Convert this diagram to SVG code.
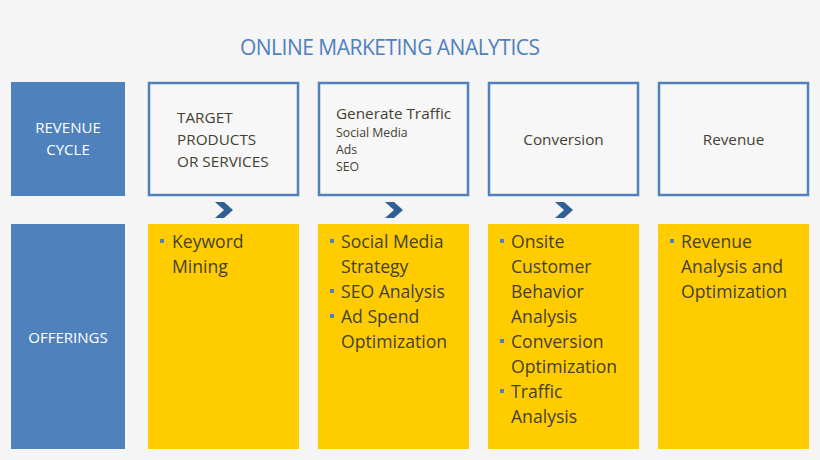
<svg xmlns="http://www.w3.org/2000/svg" width="820" height="460" viewBox="0 0 820 460">
<style>
.t{font-family:"Open Sans","Liberation Sans",sans-serif;}
.title{font-size:21px;fill:#4f81bd;}
.side{fill:#4f81bd;}
.stage{fill:#f7f7f7;stroke:#4f81bd;stroke-width:2.5;}
.offer{fill:#ffcc00;}
.wl{font-size:15px;fill:#ffffff;}
.dk{fill:#454130;}
.h{font-size:15.3px;}
.s{font-size:12.3px;}
.o{font-size:17.6px;}
.b{fill:#4f81bd;}
.chev{fill:#2f5f97;}
</style>
<rect width="820" height="460" fill="#f5f5f5"/>
<text class="t title" x="390" y="55" text-anchor="middle" textLength="300">ONLINE MARKETING ANALYTICS</text>

<g id="revenue-cycle">
<rect class="side" x="11" y="82" width="114" height="114"/>
<text class="t wl" x="68" y="133" text-anchor="middle">REVENUE</text>
<text class="t wl" x="68" y="155" text-anchor="middle">CYCLE</text>
</g>
<g id="offerings">
<rect class="side" x="11" y="224" width="114" height="225"/>
<text class="t wl" x="68" y="343" text-anchor="middle">OFFERINGS</text>
</g>

<g id="stage-target">
<rect class="stage" x="149" y="83" width="149" height="112"/>
<text class="t dk h" x="177" y="123">TARGET</text>
<text class="t dk h" x="177" y="145">PRODUCTS</text>
<text class="t dk h" x="177" y="167">OR SERVICES</text>
</g>
<g id="stage-traffic">
<rect class="stage" x="319" y="83" width="149" height="112"/>
<text class="t dk h" x="336" y="119">Generate Traffic</text>
<text class="t dk s" x="336" y="137">Social Media</text>
<text class="t dk s" x="336" y="154">Ads</text>
<text class="t dk s" x="336" y="171">SEO</text>
</g>
<g id="stage-conversion">
<rect class="stage" x="489" y="83" width="149" height="112"/>
<text class="t dk h" x="563.5" y="145" text-anchor="middle">Conversion</text>
</g>
<g id="stage-revenue">
<rect class="stage" x="659" y="83" width="149" height="112"/>
<text class="t dk h" x="733.5" y="145" text-anchor="middle">Revenue</text>
</g>

<g id="connectors">
<polygon class="chev" points="215,202 224,202 233,210 224,218 215,218 224,210"/>
<polygon class="chev" points="385,202 394,202 403,210 394,218 385,218 394,210"/>
<polygon class="chev" points="555,202 564,202 573,210 564,218 555,218 564,210"/>
</g>

<g id="offer-target">
<rect class="offer" x="148" y="224" width="151" height="225"/>
<rect class="b" x="160" y="239" width="4" height="4"/>
<text class="t dk o" x="172" y="248">Keyword</text>
<text class="t dk o" x="172" y="273">Mining</text>
</g>
<g id="offer-traffic">
<rect class="offer" x="318" y="224" width="151" height="225"/>
<rect class="b" x="330" y="239" width="4" height="4"/>
<text class="t dk o" x="341" y="248">Social Media</text>
<text class="t dk o" x="341" y="273">Strategy</text>
<rect class="b" x="330" y="289" width="4" height="4"/>
<text class="t dk o" x="341" y="298">SEO Analysis</text>
<rect class="b" x="330" y="314" width="4" height="4"/>
<text class="t dk o" x="341" y="323">Ad Spend</text>
<text class="t dk o" x="341" y="348">Optimization</text>
</g>
<g id="offer-conversion">
<rect class="offer" x="488" y="224" width="151" height="225"/>
<rect class="b" x="500" y="239" width="4" height="4"/>
<text class="t dk o" x="511" y="248">Onsite</text>
<text class="t dk o" x="511" y="273">Customer</text>
<text class="t dk o" x="511" y="298">Behavior</text>
<text class="t dk o" x="511" y="323">Analysis</text>
<rect class="b" x="500" y="339" width="4" height="4"/>
<text class="t dk o" x="511" y="348">Conversion</text>
<text class="t dk o" x="511" y="373">Optimization</text>
<rect class="b" x="500" y="389" width="4" height="4"/>
<text class="t dk o" x="511" y="398">Traffic</text>
<text class="t dk o" x="511" y="423">Analysis</text>
</g>
<g id="offer-revenue">
<rect class="offer" x="658" y="224" width="151" height="225"/>
<rect class="b" x="670" y="239" width="4" height="4"/>
<text class="t dk o" x="681" y="248">Revenue</text>
<text class="t dk o" x="681" y="273">Analysis and</text>
<text class="t dk o" x="681" y="298">Optimization</text>
</g>
</svg>
